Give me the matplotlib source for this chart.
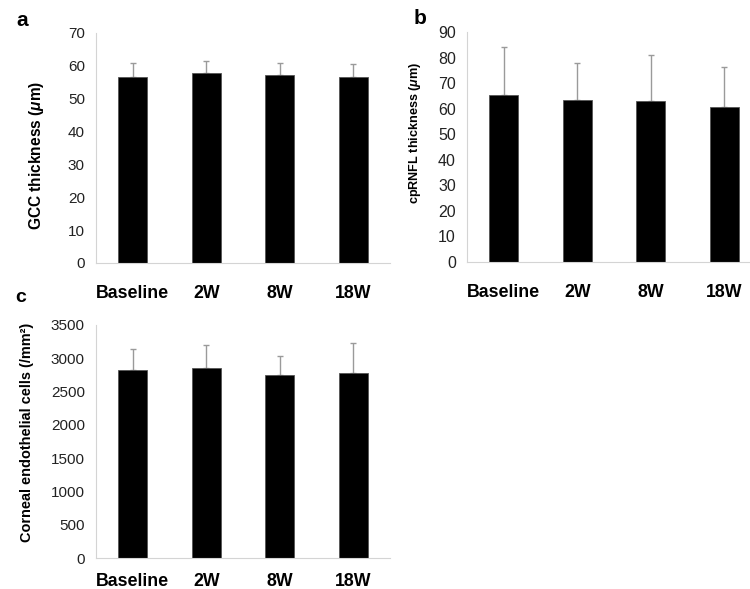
import matplotlib
matplotlib.use('Agg')
import matplotlib.pyplot as plt
import numpy as np

plt.rcParams['font.family'] = ['Liberation Sans', 'DejaVu Sans']
plt.rcParams['mathtext.fontset'] = 'custom'
plt.rcParams['mathtext.it'] = 'Liberation Sans:italic:bold'

# 时间点
groups = ['Baseline', '2W', '8W', '18W']

# a: GCC thickness
gcc_mean = [56.5, 57.7, 57.1, 56.7]
gcc_sd = [4.3, 3.8, 3.9, 3.8]

# b: cpRNFL thickness
rnfl_mean = [65.2, 63.5, 63.0, 60.6]
rnfl_sd = [18.9, 14.4, 18.0, 15.7]

# c: corneal endothelial cells
cec_mean = [2824, 2859, 2749, 2774]
cec_sd = [311, 341, 290, 451]

W, H = 750, 589


def px_axes(fig, left, top, width, height):
    return fig.add_axes([left / W, (H - top - height) / H, width / W, height / H])


def draw_panel(ax, means, sds, ylim, step, ylabel, ytick_size, xpad):
    x = np.arange(len(groups))
    ax.bar(x, means, width=0.4, color='black', edgecolor='#555555', linewidth=0.6, zorder=2)
    ax.errorbar(x, means, yerr=[np.zeros(len(sds)), sds], fmt='none',
                ecolor='#9a9a9a', elinewidth=1.0, capsize=2.5, capthick=1.0, zorder=1)
    ax.set_xlim(-0.5, len(groups) - 0.5)
    ax.set_ylim(0, ylim)
    ax.set_yticks(np.arange(0, ylim + 1, step))
    ax.set_xticks(x)
    ax.set_xticklabels(groups, fontsize=12.8, fontweight='bold')
    ax.tick_params(axis='x', length=0, pad=xpad)
    ax.tick_params(axis='y', length=0, pad=8, labelsize=ytick_size, labelcolor='#222222')
    for s in ['top', 'right']:
        ax.spines[s].set_visible(False)
    for s in ['left', 'bottom']:
        ax.spines[s].set_color('#d4d4d4')
        ax.spines[s].set_linewidth(0.8)
    ax.set_ylabel(ylabel, fontsize=10.5, fontweight='bold')


def fit_label(fig, ax, target_px):
    # 按参考图里的长度调字号
    lab = ax.yaxis.label
    renderer = fig.canvas.get_renderer()
    h = lab.get_window_extent(renderer).height
    lab.set_fontsize(lab.get_fontsize() * target_px / h)


fig = plt.figure(figsize=(7.5, 5.89), dpi=100)

ax_a = px_axes(fig, 96, 33, 294, 230)
draw_panel(ax_a, gcc_mean, gcc_sd, 70, 10, r'GCC thickness ($\mu$m)', 11, 15.5)
ax_a.yaxis.set_label_coords(-0.17, 0.47)

ax_b = px_axes(fig, 467, 32, 294, 230)
draw_panel(ax_b, rnfl_mean, rnfl_sd, 90, 10, r'cpRNFL thickness ($\mu$m)', 11.5, 15.5)
ax_b.yaxis.set_label_coords(-0.15, 0.56)

ax_c = px_axes(fig, 96, 325, 294, 233)
draw_panel(ax_c, cec_mean, cec_sd, 3500, 500, 'Corneal endothelial cells (/mm²)', 11, 10.5)
ax_c.yaxis.set_label_coords(-0.21, 0.54)

fig.canvas.draw()
fit_label(fig, ax_a, 150)
fit_label(fig, ax_b, 142)
fit_label(fig, ax_c, 221)

fig.text(22 / W, 1 - 21 / H, 'a', fontsize=15, fontweight='bold', ha='center', va='center')
fig.text(420 / W, 1 - 18 / H, 'b', fontsize=15, fontweight='bold', ha='center', va='center')
fig.text(21 / W, 1 - 298 / H, 'c', fontsize=14, fontweight='bold', ha='center', va='center')

fig.savefig('out.png', dpi=100)
